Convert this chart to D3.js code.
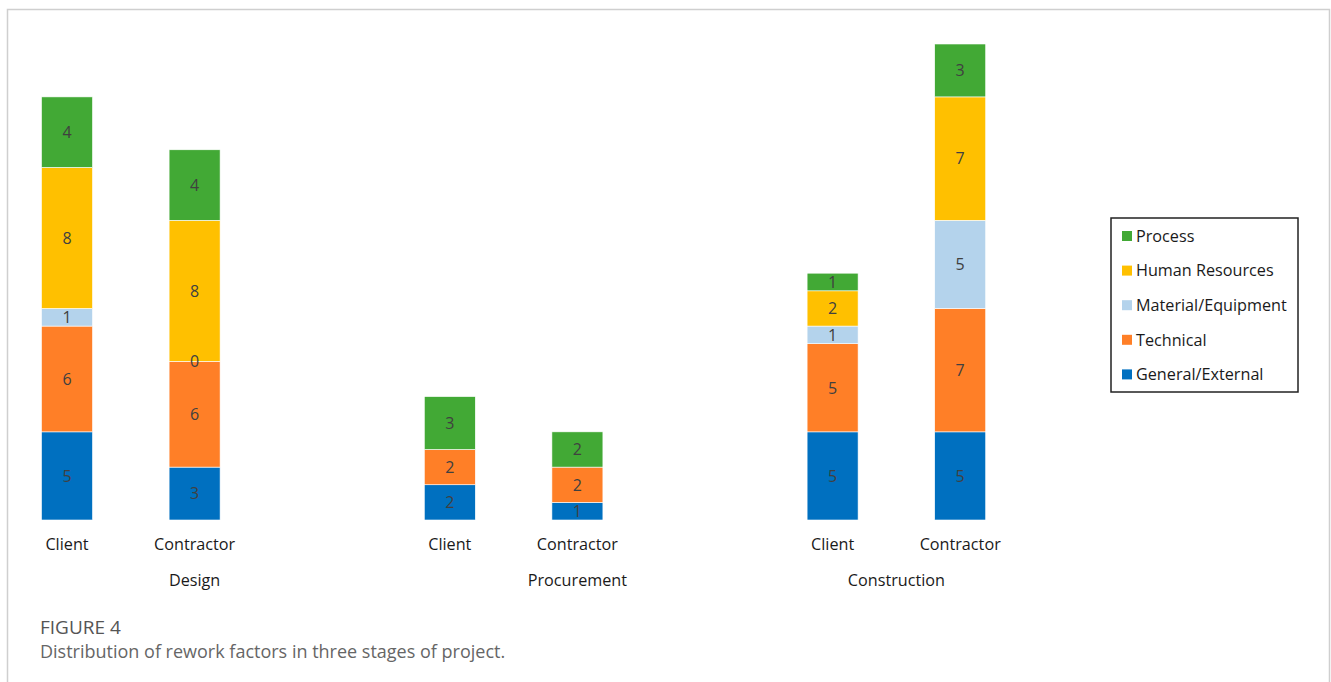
<!DOCTYPE html>
<html>
<head>
<meta charset="utf-8">
<script src="https://cdn.jsdelivr.net/npm/d3@7"></script>
<style>
    body { margin: 0; background: #fff; }
    svg { display: block; }
</style>
</head>
<body>
<svg id="chart" width="1331" height="682"></svg>
<script>
// ---------------------------------------------------------------------------
// Data
// ---------------------------------------------------------------------------
const stages = ["Design", "Procurement", "Construction"];
const roles = ["Client", "Contractor"];
const factors = ["General/External", "Technical", "Material/Equipment", "Human Resources", "Process"];
const factorColors = ["#0070C0", "#FF7F27", "#B4D3EC", "#FFC000", "#42A935"];

// one value per bar, in factor order (bottom to top)
const generalExternal = [5, 3, 2, 1, 5, 5];
const technical       = [6, 6, 2, 2, 5, 7];
const materialEquip   = [1, 0, 0, 0, 1, 5];
const humanResources  = [8, 8, 0, 0, 2, 7];
const process         = [4, 4, 3, 2, 1, 3];
// zero segment that Excel still labelled (Design / Contractor)
const shownZeros = [false, true, false, false, false, false];

const bars = [];
stages.forEach((stage, si) => {
    roles.forEach((role, ri) => {
        const i = si * roles.length + ri;
        bars.push({
            stage, role, i,
            "General/External": generalExternal[i],
            "Technical": technical[i],
            "Material/Equipment": materialEquip[i],
            "Human Resources": humanResources[i],
            "Process": process[i]
        });
    });
});

// Excel-style category slots: a blank slot separates the stages
const slots = [];
stages.forEach((stage, si) => {
    roles.forEach(role => slots.push(stage + "|" + role));
    if (si < stages.length - 1) slots.push(stage + "|");
});

// ---------------------------------------------------------------------------
// Layout
// ---------------------------------------------------------------------------
const svg = d3.select("#chart");
const font = "'Open Sans', 'Noto Sans', sans-serif";

// frame
svg.append("path")
    .attr("d", "M7.5,682 V9.5 H1329.5 V682")
    .attr("fill", "none")
    .attr("stroke", "#cfcfcf")
    .attr("stroke-width", 1.5);

const x = d3.scaleBand().domain(slots).range([3.2, 1024]);
const barWidth = 51;
const y = d3.scaleLinear().domain([0, 27]).range([520, 44]);

const color = d3.scaleOrdinal().domain(factors).range(factorColors);
const series = d3.stack().keys(factors)(bars);

const slotCenter = key => x(key) + x.bandwidth() / 2;
const barX = d => slotCenter(d.stage + "|" + d.role);
const stageX = stage => d3.mean(slots.filter(s => s.startsWith(stage + "|")), slotCenter);

const g = svg.append("g");

// segments
series.forEach(s => {
    g.append("g").selectAll("rect")
        .data(s)
        .join("rect")
        .attr("x", d => barX(d.data) - barWidth / 2)
        .attr("y", d => y(d[1]))
        .attr("width", barWidth)
        .attr("height", d => y(d[0]) - y(d[1]))
        .attr("fill", color(s.key))
        .attr("stroke", "#fff")
        .attr("stroke-width", 0.6);
});

// segment labels, drawn above all rects
series.forEach(s => {
    const key = s.key;
    g.append("g").selectAll("text")
        .data(s.filter(d => d.data[key] > 0 || (shownZeros[d.data.i] && key === "Material/Equipment")))
        .join("text")
        .attr("x", d => barX(d.data))
        .attr("y", d => (y(d[0]) + y(d[1])) / 2)
        .attr("dy", "0.36em")
        .attr("text-anchor", "middle")
        .attr("font-family", font)
        .attr("font-size", 16)
        .attr("fill", "#404040")
        .text(d => d.data[key]);
});

// category labels
g.selectAll(".role-label")
    .data(bars)
    .join("text")
    .attr("class", "role-label")
    .attr("x", barX)
    .attr("y", 550)
    .attr("text-anchor", "middle")
    .attr("font-family", font)
    .attr("font-size", 16.2)
    .attr("fill", "#1a1a1a")
    .text(d => d.role);

g.selectAll(".stage-label")
    .data(stages)
    .join("text")
    .attr("class", "stage-label")
    .attr("x", stageX)
    .attr("y", 586)
    .attr("text-anchor", "middle")
    .attr("font-family", font)
    .attr("font-size", 16.2)
    .attr("fill", "#1a1a1a")
    .text(d => d);

// legend (top item is Process)
const legend = svg.append("g").attr("transform", "translate(1111,218)");
legend.append("rect")
    .attr("width", 187)
    .attr("height", 174)
    .attr("fill", "#fff")
    .attr("stroke", "#222")
    .attr("stroke-width", 1.5);

const legendItems = legend.selectAll(".item")
    .data(factors.slice().reverse())
    .join("g")
    .attr("class", "item")
    .attr("transform", (d, i) => `translate(11,${18 + i * 34.6})`);

legendItems.append("rect")
    .attr("x", 0)
    .attr("y", -5)
    .attr("width", 10)
    .attr("height", 10)
    .attr("fill", d => color(d));

legendItems.append("text")
    .attr("x", 14)
    .attr("dy", "0.36em")
    .attr("font-family", font)
    .attr("font-size", 16.2)
    .attr("fill", "#1a1a1a")
    .text(d => d);

// caption
svg.append("text")
    .attr("x", 40)
    .attr("y", 634)
    .attr("font-family", font)
    .attr("font-size", 19)
    .attr("fill", "#555")
    .text("FIGURE 4");

svg.append("text")
    .attr("x", 40)
    .attr("y", 658)
    .attr("font-family", font)
    .attr("font-size", 18)
    .attr("fill", "#666")
    .text("Distribution of rework factors in three stages of project.");
</script>
</body>
</html>
